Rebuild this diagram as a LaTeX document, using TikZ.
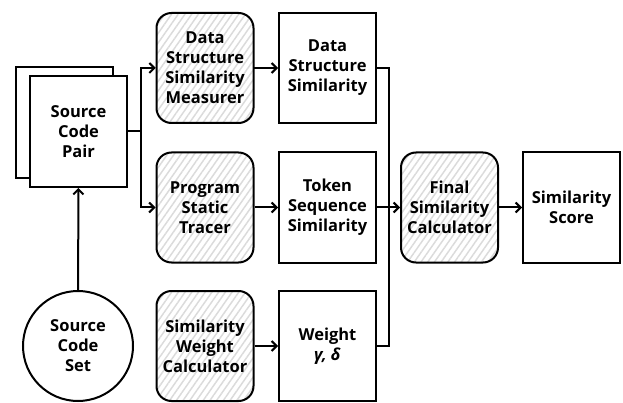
\documentclass[tikz,border=0pt]{standalone}
\usepackage{fontspec}
\setmainfont{Open Sans}
\usetikzlibrary{positioning,arrows.meta,patterns.meta}

\begin{document}
\begin{tikzpicture}[x=1pt, y=-1pt,
    font=\fontsize{16.5}{20}\selectfont\bfseries,
    box/.style={draw, line width=2pt, fill=white, align=center,
      minimum width=97pt, minimum height=110pt, inner sep=1pt},
    tool/.style={box, rounded corners=15pt, fill=none,
      pattern={Lines[angle=55, distance=5.5pt, line width=1.5pt]},
      pattern color=black!14},
    src/.style={draw, circle, line width=2pt, align=center, minimum size=110pt, inner sep=0pt},
    arr/.style={line width=2pt, -{Straight Barb[length=5pt, width=10pt, line width=2pt]}},
    wire/.style={line width=2pt}]
  \useasboundingbox (0,0) rectangle (623,403);

  % inputs
  \node[box, minimum height=111pt] (pairback) at (64.5,122.5) {};
  \node[box, minimum height=111pt] (pair) at (78.5,131.5) {Source\\Code\\Pair};
  \node[src] (codeset) at (78,346) {Source\\Code\\Set};

  % tools and their outputs
  \node[tool] (dsmeasure) at (205,68) {Data\\Structure\\Similarity\\Measurer};
  \node[box] (dssim) at (327.5,68) {Data\\Structure\\Similarity};
  \node[tool] (tracer) at (205,207.5) {Program\\Static\\Tracer};
  \node[box] (toksim) at (327.5,207.5) {Token\\Sequence\\Similarity};
  \node[tool] (weightcalc) at (205,346) {Similarity\\Weight\\Calculator};
  \node[box] (weight) at (327.5,346) {Weight\\\textit{γ, δ}};
  \node[tool] (finalcalc) at (449.5,207.5) {Final\\Similarity\\Calculator};
  \node[box] (score) at (571.5,207.5) {Similarity\\Score};

  % connectors
  \draw[arr] (codeset) -- (pair);
  \draw[wire] (pair.east) -- ++(13,0) coordinate (split);
  \draw[arr] (split) |- (dsmeasure);
  \draw[arr] (split) |- (tracer);
  \draw[arr] (dsmeasure) -- (dssim);
  \draw[arr] (tracer) -- (toksim);
  \draw[arr] (weightcalc) -- (weight);
  \draw[wire] (dssim.east) -- ++(12,0) coordinate (bus) -- (bus |- weight.east) -- (weight.east);
  \draw[arr] (toksim) -- (finalcalc);
  \draw[arr] (finalcalc) -- (score);
\end{tikzpicture}
\end{document}
